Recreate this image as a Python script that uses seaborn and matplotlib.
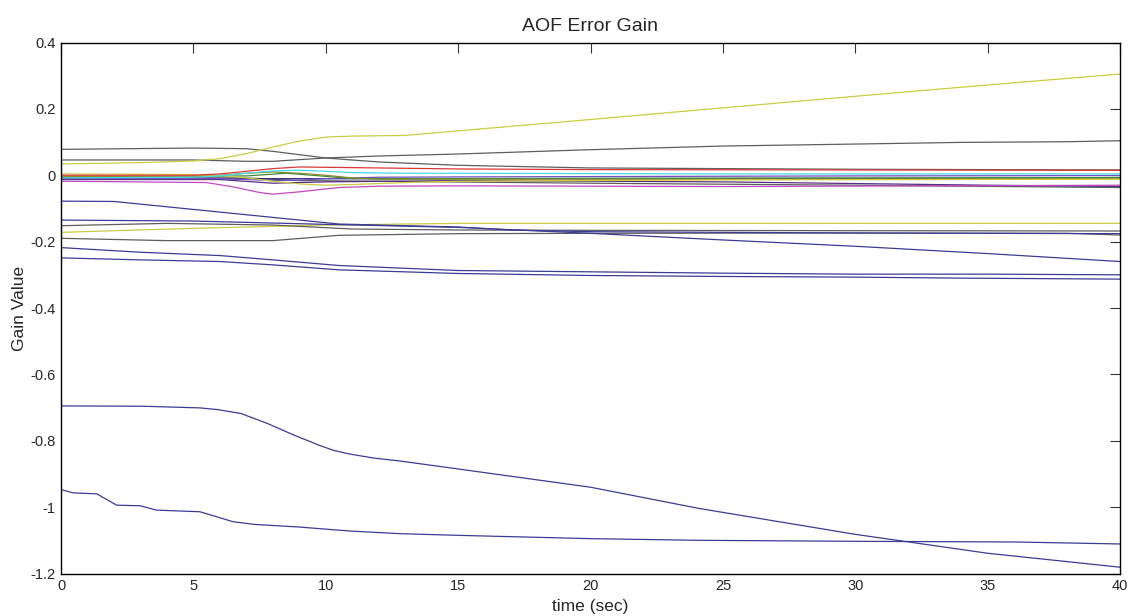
import matplotlib
matplotlib.use("Agg")
import matplotlib.pyplot as plt
import seaborn as sns
import pandas as pd

# ---------------- data ----------------
yel1_t = [0, 3, 5, 6, 7, 8, 9, 10, 11, 13, 20, 25, 30, 35, 40]
yel1_v = [0.034, 0.038, 0.043, 0.05, 0.065, 0.085, 0.103, 0.115, 0.118, 0.12, 0.168, 0.203, 0.238, 0.272, 0.305]

grayA_t = [0, 5, 7, 8, 9, 10, 12, 15, 20, 30, 40]
grayA_v = [0.078, 0.082, 0.08, 0.072, 0.062, 0.052, 0.04, 0.03, 0.022, 0.018, 0.016]

grayB_t = [0, 5, 7, 8, 10, 12, 15, 20, 25, 30, 34, 38, 40]
grayB_v = [0.046, 0.046, 0.042, 0.042, 0.052, 0.058, 0.064, 0.077, 0.088, 0.094, 0.099, 0.101, 0.104]

red_t = [0, 5, 6, 7, 8, 9, 12, 15, 20, 30, 40]
red_v = [0.0, 0.0, 0.004, 0.012, 0.02, 0.025, 0.022, 0.019, 0.017, 0.016, 0.015]

cyan_t = [0, 5, 6, 7, 8, 9, 10, 11, 13, 15, 25, 40]
cyan_v = [-0.008, -0.006, -0.002, 0.006, 0.013, 0.015, 0.012, 0.008, 0.006, 0.006, 0.004, 0.004]

olive_t = [0, 5, 6, 7, 8, 9, 10, 11, 12, 15, 25, 40]
olive_v = [-0.004, -0.004, 0.0, 0.006, 0.01, 0.006, 0.0, -0.008, -0.012, -0.012, -0.012, -0.01]

yel2_t = [0, 5, 6, 7, 8, 9, 10, 11, 13, 15, 25, 40]
yel2_v = [0.004, 0.002, 0.0, -0.008, -0.018, -0.026, -0.03, -0.028, -0.022, -0.018, -0.014, -0.012]

mag_t = [0, 5.5, 6.5, 7.5, 8, 9, 10.5, 12, 15, 25, 40]
mag_v = [-0.018, -0.022, -0.035, -0.052, -0.057, -0.05, -0.037, -0.033, -0.032, -0.034, -0.03]

purp_t = [0, 6, 7, 8, 9, 10, 12, 15, 20, 30, 40]
purp_v = [-0.01, -0.01, -0.013, -0.016, -0.015, -0.01, -0.006, -0.005, -0.004, -0.002, -0.001]

dpurp_t = [0, 6, 8, 10, 15, 25, 35, 40]
dpurp_v = [-0.013, -0.013, -0.024, -0.02, -0.016, -0.02, -0.03, -0.034]

grayC_t = [0, 7, 9, 12, 20, 30, 40]
grayC_v = [-0.006, -0.008, -0.016, -0.018, -0.024, -0.03, -0.037]

green_t = [0, 7, 8.5, 9.5, 11, 15, 40]
green_v = [-0.006, -0.002, 0.006, 0.0, -0.01, -0.01, -0.007]

navy_t = [0, 40]
navy_v = [-0.011, -0.009]

b1_t = [0, 2, 4, 6, 8, 10.5, 13, 15, 17, 20, 30, 40]
b1_v = [-0.078, -0.079, -0.095, -0.111, -0.127, -0.147, -0.152, -0.156, -0.165, -0.17, -0.174, -0.176]

b2_t = [0, 5, 10, 15, 20, 25, 30, 35, 40]
b2_v = [-0.135, -0.138, -0.148, -0.157, -0.175, -0.195, -0.214, -0.236, -0.26]

g1_t = [0, 4, 8, 11, 15, 20, 30, 40]
g1_v = [-0.152, -0.145, -0.15, -0.162, -0.165, -0.166, -0.167, -0.168]

yel3_t = [0, 5, 10, 15, 20, 40]
yel3_v = [-0.172, -0.16, -0.15, -0.145, -0.145, -0.145]

g2_t = [0, 4, 8, 10.5, 15, 20, 30, 38, 40]
g2_v = [-0.19, -0.197, -0.197, -0.181, -0.176, -0.175, -0.174, -0.175, -0.18]

b3_t = [0, 3, 6, 8, 10.5, 15, 20, 25, 30, 35, 40]
b3_v = [-0.218, -0.232, -0.242, -0.255, -0.272, -0.287, -0.291, -0.295, -0.298, -0.298, -0.3]

b4_t = [0, 3, 6, 8, 10.5, 15, 20, 25, 30, 34, 40]
b4_v = [-0.249, -0.255, -0.26, -0.27, -0.285, -0.296, -0.302, -0.305, -0.307, -0.31, -0.313]

b5_t = [0, 3.1, 5.25, 5.9, 6.8, 7.8, 8.8, 9.8, 10.3, 10.9, 11.8, 12.8, 15, 20, 24.1, 30, 35, 40]
b5_v = [-0.695, -0.696, -0.701, -0.706, -0.718, -0.748, -0.783, -0.815, -0.829, -0.84, -0.852, -0.861,
        -0.885, -0.94, -1.004, -1.082, -1.139, -1.181]

b6_t = [0, 0.45, 1.35, 2.1, 3, 3.6, 5.25, 6.5, 7.3, 9, 10.9, 12.8, 15, 20, 24.1, 30, 36, 40]
b6_v = [-0.947, -0.957, -0.96, -0.994, -0.996, -1.009, -1.014, -1.044, -1.052, -1.06,
        -1.072, -1.08, -1.085, -1.095, -1.1, -1.103, -1.105, -1.111]

x_ticks = [0, 5, 10, 15, 20, 25, 30, 35, 40]
y_ticks = [0.4, 0.2, 0, -0.2, -0.4, -0.6, -0.8, -1, -1.2]
y_tick_labels = ["0.4", "0.2", "0", "-0.2", "-0.4", "-0.6", "-0.8", "-1", "-1.2"]

BLUE = "#3c3c96"
GRAY = "#5e5e5e"
YEL = "#cccc44"
series = [
    ("b6", b6_t, b6_v, BLUE),
    ("b5", b5_t, b5_v, BLUE),
    ("b4", b4_t, b4_v, BLUE),
    ("b3", b3_t, b3_v, BLUE),
    ("g2", g2_t, g2_v, GRAY),
    ("yel3", yel3_t, yel3_v, YEL),
    ("g1", g1_t, g1_v, GRAY),
    ("b2", b2_t, b2_v, BLUE),
    ("b1", b1_t, b1_v, BLUE),
    ("grayB", grayB_t, grayB_v, GRAY),
    ("grayA", grayA_t, grayA_v, GRAY),
    ("yel1", yel1_t, yel1_v, YEL),
    ("grayC", grayC_t, grayC_v, GRAY),
    ("navy", navy_t, navy_v, "#202078"),
    ("dpurp", dpurp_t, dpurp_v, "#583080"),
    ("purp", purp_t, purp_v, "#7050c0"),
    ("green", green_t, green_v, "#3a8a3a"),
    ("olive", olive_t, olive_v, "#8a8a30"),
    ("yel2", yel2_t, yel2_v, YEL),
    ("mag", mag_t, mag_v, "#c048c0"),
    ("cyan", cyan_t, cyan_v, "#48d8e8"),
    ("red", red_t, red_v, "#d83838"),
]

rows = []
for name, ts, vs, _ in series:
    for t, v in zip(ts, vs):
        rows.append({"t": t, "v": v, "s": name})
df = pd.DataFrame(rows)
palette = {name: c for name, _, _, c in series}

sns.set_style("white")
plt.rcParams["font.family"] = ["Liberation Sans", "DejaVu Sans"]

fig = plt.figure(figsize=(11.31, 6.16), dpi=100)
ax = fig.add_axes([61 / 1131, 42.5 / 616, (1120 - 61) / 1131, (573.5 - 42.5) / 616])
sns.lineplot(data=df, x="t", y="v", hue="s", hue_order=[s[0] for s in series],
             palette=palette, estimator=None, sort=False, legend=False,
             linewidth=0.9, ax=ax)

ax.set_xlim(0, 40)
ax.set_ylim(-1.2, 0.4)
ax.set_xticks(x_ticks)
ax.set_xticklabels([str(x) for x in x_ticks])
ax.set_yticks(y_ticks)
ax.set_yticklabels(y_tick_labels)
ax.tick_params(direction="in", top=True, right=True, length=7, width=0.8,
               color="#333333", labelsize=10.5, pad=4)
for sp in ax.spines.values():
    sp.set_color("black")
    sp.set_linewidth(1.0)
ax.set_title("AOF Error Gain", fontsize=14, pad=8)
ax.set_xlabel("time (sec)", fontsize=12.5, labelpad=4)
ax.set_ylabel("Gain Value", fontsize=12.5, labelpad=2)

fig.savefig("out.png", dpi=100)
